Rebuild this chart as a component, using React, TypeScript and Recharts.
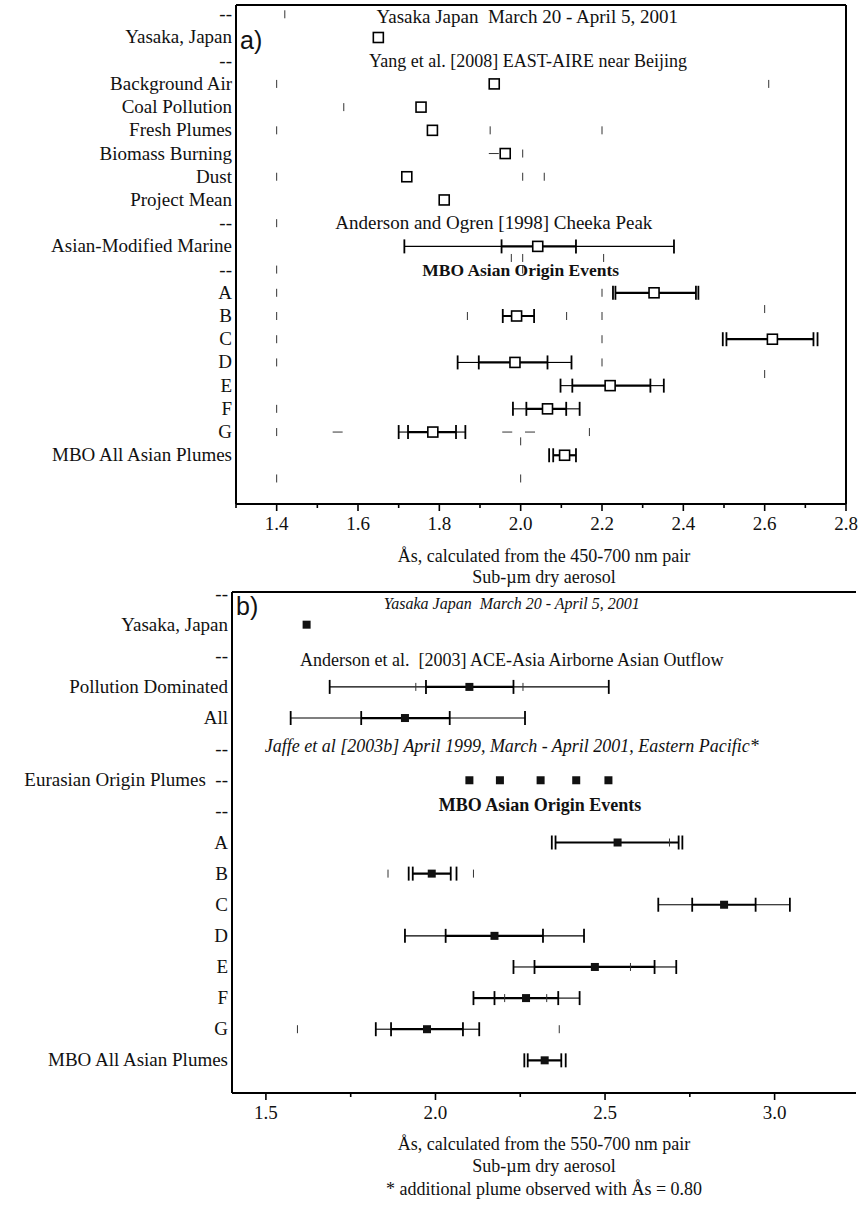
import React from "react";
import { ScatterChart, Scatter, XAxis, YAxis, ReferenceLine } from "recharts";

const serif = "'Liberation Serif', 'Times New Roman', serif";
const sans = "'Liberation Sans', Arial, sans-serif";

// ---------- panel a: 450-700 nm pair ----------
const rowsA = [
  "--", "Yasaka, Japan", "--", "Background Air", "Coal Pollution", "Fresh Plumes",
  "Biomass Burning", "Dust", "Project Mean", "--", "Asian-Modified Marine", "--",
  "A", "B", "C", "D", "E", "F", "G", "MBO All Asian Plumes",
];

const meansA = [
  { row: 1, v: 1.65 }, { row: 3, v: 1.935 }, { row: 4, v: 1.755 }, { row: 5, v: 1.783 },
  { row: 6, v: 1.962 }, { row: 7, v: 1.72 }, { row: 8, v: 1.812 }, { row: 10, v: 2.042 },
  { row: 12, v: 2.328 }, { row: 13, v: 1.99 }, { row: 14, v: 2.619 }, { row: 15, v: 1.986 },
  { row: 16, v: 2.22 }, { row: 17, v: 2.066 }, { row: 18, v: 1.784 }, { row: 19, v: 2.108 },
];

const whiskersA = [
  { row: 10, lo: 1.714, hi: 1.953, kind: "outer" },
  { row: 10, lo: 1.953, hi: 2.136, kind: "inner" },
  { row: 10, lo: 2.136, hi: 2.377, kind: "outer" },
  { row: 12, lo: 2.233, hi: 2.431, kind: "inner" },
  { row: 13, lo: 1.956, hi: 2.033, kind: "inner" },
  { row: 14, lo: 2.506, hi: 2.72, kind: "inner" },
  { row: 15, lo: 1.845, hi: 1.897, kind: "outer" },
  { row: 15, lo: 1.897, hi: 2.066, kind: "inner" },
  { row: 15, lo: 2.066, hi: 2.125, kind: "outer" },
  { row: 16, lo: 2.098, hi: 2.127, kind: "outer" },
  { row: 16, lo: 2.127, hi: 2.319, kind: "inner" },
  { row: 16, lo: 2.319, hi: 2.352, kind: "outer" },
  { row: 17, lo: 1.981, hi: 2.014, kind: "outer" },
  { row: 17, lo: 2.014, hi: 2.112, kind: "inner" },
  { row: 17, lo: 2.112, hi: 2.145, kind: "outer" },
  { row: 18, lo: 1.7, hi: 1.723, kind: "outer" },
  { row: 18, lo: 1.723, hi: 1.841, kind: "inner" },
  { row: 18, lo: 1.841, hi: 1.864, kind: "outer" },
  { row: 19, lo: 2.08, hi: 2.136, kind: "inner" },
];

const capsA = [
  { row: 10, v: 1.714 }, { row: 10, v: 1.953 }, { row: 10, v: 2.136 }, { row: 10, v: 2.377 },
  { row: 12, v: 2.227 }, { row: 12, v: 2.233 }, { row: 12, v: 2.431 }, { row: 12, v: 2.437 },
  { row: 13, v: 1.956 }, { row: 13, v: 2.033 },
  { row: 14, v: 2.497 }, { row: 14, v: 2.506 }, { row: 14, v: 2.72 }, { row: 14, v: 2.73 },
  { row: 15, v: 1.845 }, { row: 15, v: 1.897 }, { row: 15, v: 2.066 }, { row: 15, v: 2.125 },
  { row: 16, v: 2.098 }, { row: 16, v: 2.127 }, { row: 16, v: 2.319 }, { row: 16, v: 2.352 },
  { row: 17, v: 1.981 }, { row: 17, v: 2.014 }, { row: 17, v: 2.112 }, { row: 17, v: 2.145 },
  { row: 18, v: 1.7 }, { row: 18, v: 1.723 }, { row: 18, v: 1.841 }, { row: 18, v: 1.864 },
  { row: 19, v: 2.07 }, { row: 19, v: 2.08 }, { row: 19, v: 2.136 },
];

// faint specks left of the scan
const marksA = [
  { row: 0, v: 1.42 }, { row: 3, v: 1.4 }, { row: 3, v: 2.61 }, { row: 4, v: 1.565 },
  { row: 5, v: 1.4 }, { row: 5, v: 1.925 }, { row: 5, v: 2.2 }, { row: 6, v: 2.005 },
  { row: 7, v: 1.4 }, { row: 7, v: 2.005 }, { row: 7, v: 2.058 }, { row: 9, v: 1.4 },
  { row: 10.5, v: 1.977 }, { row: 10.5, v: 2.005 }, { row: 10.5, v: 2.204 }, { row: 11, v: 1.4 },
  { row: 11, v: 2.005 }, { row: 12, v: 1.4 }, { row: 12, v: 2.2 }, { row: 13, v: 1.4 },
  { row: 13, v: 1.869 }, { row: 13, v: 2.113 }, { row: 13, v: 2.2 }, { row: 12.7, v: 2.6 },
  { row: 14, v: 1.4 }, { row: 14, v: 2.2 }, { row: 15, v: 1.4 }, { row: 15, v: 2.2 },
  { row: 15.5, v: 2.6 }, { row: 17, v: 1.4 }, { row: 18, v: 1.4 }, { row: 18.4, v: 2.0 },
  { row: 18, v: 2.169 }, { row: 20, v: 1.4 }, { row: 20, v: 2.0 },
];
const dashesA = [
  { row: 6, v: 1.934 }, { row: 18, v: 1.55 }, { row: 18, v: 1.967 }, { row: 18, v: 2.023 },
];

const notesA = [
  { row: 0.1, at: 2.016, text: "Yasaka Japan  March 20 - April 5, 2001" },
  { row: 2, at: 2.018, text: "Yang et al. [2008] EAST-AIRE near Beijing" },
  { row: 9, at: 1.934, text: "Anderson and Ogren [1998] Cheeka Peak" },
  { row: 11, at: 2.0, text: "MBO Asian Origin Events" },
];
const majorA = [1.4, 1.6, 1.8, 2.0, 2.2, 2.4, 2.6, 2.8];
const minorA = [1.3, 1.5, 1.7, 1.9, 2.1, 2.3, 2.5, 2.7];

// ---------- panel b: 550-700 nm pair ----------
const rowsB = [
  "--", "Yasaka, Japan", "--", "Pollution Dominated", "All", "--",
  "Eurasian Origin Plumes\u00a0\u00a0--", "--", "A", "B", "C", "D", "E", "F", "G",
  "MBO All Asian Plumes",
];

const meansB = [
  { row: 1, v: 1.62 }, { row: 3, v: 2.1 }, { row: 4, v: 1.91 },
  { row: 6, v: 2.1 }, { row: 6, v: 2.19 }, { row: 6, v: 2.31 }, { row: 6, v: 2.415 }, { row: 6, v: 2.51 },
  { row: 8, v: 2.537 }, { row: 9, v: 1.989 }, { row: 10, v: 2.851 }, { row: 11, v: 2.174 },
  { row: 12, v: 2.47 }, { row: 13, v: 2.267 }, { row: 14, v: 1.975 }, { row: 15, v: 2.322 },
];

const whiskersB = [
  { row: 3, lo: 1.688, hi: 1.972, kind: "outer" },
  { row: 3, lo: 1.972, hi: 2.23, kind: "inner" },
  { row: 3, lo: 2.23, hi: 2.511, kind: "outer" },
  { row: 4, lo: 1.573, hi: 1.781, kind: "outer" },
  { row: 4, lo: 1.781, hi: 2.042, kind: "inner" },
  { row: 4, lo: 2.042, hi: 2.264, kind: "outer" },
  { row: 8, lo: 2.354, hi: 2.717, kind: "inner" },
  { row: 9, lo: 1.933, hi: 2.045, kind: "inner" },
  { row: 10, lo: 2.657, hi: 2.757, kind: "outer" },
  { row: 10, lo: 2.757, hi: 2.944, kind: "inner" },
  { row: 10, lo: 2.944, hi: 3.045, kind: "outer" },
  { row: 11, lo: 1.91, hi: 2.03, kind: "outer" },
  { row: 11, lo: 2.03, hi: 2.317, kind: "inner" },
  { row: 11, lo: 2.317, hi: 2.438, kind: "outer" },
  { row: 12, lo: 2.23, hi: 2.292, kind: "outer" },
  { row: 12, lo: 2.292, hi: 2.646, kind: "inner" },
  { row: 12, lo: 2.646, hi: 2.71, kind: "outer" },
  { row: 13, lo: 2.112, hi: 2.174, kind: "inner" },
  { row: 13, lo: 2.174, hi: 2.362, kind: "inner" },
  { row: 13, lo: 2.362, hi: 2.425, kind: "outer" },
  { row: 14, lo: 1.824, hi: 1.869, kind: "outer" },
  { row: 14, lo: 1.869, hi: 2.081, kind: "inner" },
  { row: 14, lo: 2.081, hi: 2.129, kind: "outer" },
  { row: 15, lo: 2.272, hi: 2.371, kind: "inner" },
];

const capsB = [
  { row: 3, v: 1.688 }, { row: 3, v: 1.972 }, { row: 3, v: 2.23 }, { row: 3, v: 2.511 },
  { row: 4, v: 1.573 }, { row: 4, v: 1.781 }, { row: 4, v: 2.042 }, { row: 4, v: 2.264 },
  { row: 8, v: 2.343 }, { row: 8, v: 2.354 }, { row: 8, v: 2.717 }, { row: 8, v: 2.728 },
  { row: 9, v: 1.921 }, { row: 9, v: 1.933 }, { row: 9, v: 2.045 }, { row: 9, v: 2.062 },
  { row: 10, v: 2.657 }, { row: 10, v: 2.757 }, { row: 10, v: 2.944 }, { row: 10, v: 3.045 },
  { row: 11, v: 1.91 }, { row: 11, v: 2.03 }, { row: 11, v: 2.317 }, { row: 11, v: 2.438 },
  { row: 12, v: 2.23 }, { row: 12, v: 2.292 }, { row: 12, v: 2.646 }, { row: 12, v: 2.71 },
  { row: 13, v: 2.112 }, { row: 13, v: 2.174 }, { row: 13, v: 2.362 }, { row: 13, v: 2.425 },
  { row: 14, v: 1.824 }, { row: 14, v: 1.869 }, { row: 14, v: 2.081 }, { row: 14, v: 2.129 },
  { row: 15, v: 2.262 }, { row: 15, v: 2.272 }, { row: 15, v: 2.371 }, { row: 15, v: 2.384 },
];

const marksB = [
  { row: 3, v: 1.942 }, { row: 3, v: 2.258 }, { row: 8, v: 2.69 }, { row: 9, v: 1.86 },
  { row: 9, v: 2.112 }, { row: 12, v: 2.575 }, { row: 13, v: 2.204 }, { row: 13, v: 2.328 },
  { row: 14, v: 1.593 }, { row: 14, v: 2.365 },
];
const dashesB: { row: number; v: number }[] = [];

const notesB = [
  { row: 0.3, at: 2.225, text: "Yasaka Japan  March 20 - April 5, 2001" },
  { row: 2.15, at: 2.225, text: "Anderson et al.  [2003] ACE-Asia Airborne Asian Outflow" },
  { row: 4.9, at: 2.225, text: "Jaffe et al [2003b] April 1999, March - April 2001, Eastern Pacific*" },
  { row: 6.8, at: 2.308, text: "MBO Asian Origin Events" },
];
const majorB = [1.5, 2.0, 2.5, 3.0];
const minorB = [1.75, 2.25, 2.75];

const noteStyleA = ["normal", "normal", "normal", "bold"];
const noteStyleB = ["italic", "normal", "italic", "bold"];

const toXY = (d: { row: number; v: number }) => ({ x: d.v, y: d.row });
const nothing = () => <g />;

function Panel(props: any) {
  const {
    width, height, margin, yWidth, xDomain, yDomain, rows, majors, minors,
    means, whiskers, caps, marks, dashes, notes, noteStyles, filled, rightBorder, noteSize,
  } = props;

  const xTick = (p: any) => {
    const v = p.payload.value;
    const major = majors.some((m: number) => Math.abs(m - v) < 1e-6);
    return (
      <g>
        <line x1={p.x} x2={p.x} y1={p.y} y2={p.y + (major ? 7 : 4)} stroke="#000" strokeWidth={1.6} />
        {major && (
          <text x={p.x} y={p.y + 26} textAnchor="middle" fontSize={19} fontFamily={serif} fill="#111">
            {v.toFixed(1)}
          </text>
        )}
      </g>
    );
  };

  const yTick = (p: any) => (
    <text x={p.x} y={p.y} dy={6} textAnchor="end" fontSize={19} fontFamily={serif} fill="#111">
      {rows[p.payload.value]}
    </text>
  );

  const square = (p: any) =>
    filled ? (
      <rect x={p.cx - 4} y={p.cy - 4} width={8} height={8} fill="#111" />
    ) : (
      <rect x={p.cx - 5} y={p.cy - 5} width={10} height={10} fill="#fff" stroke="#000" strokeWidth={1.6} />
    );
  const cap = (p: any) => (
    <line x1={p.cx} x2={p.cx} y1={p.cy - 7} y2={p.cy + 7} stroke="#000" strokeWidth={1.8} />
  );
  const mark = (p: any) => (
    <line x1={p.cx} x2={p.cx} y1={p.cy - 4} y2={p.cy + 4} stroke="#333" strokeWidth={1} />
  );
  const dash = (p: any) => (
    <line x1={p.cx - 5} x2={p.cx + 5} y1={p.cy} y2={p.cy} stroke="#333" strokeWidth={1} />
  );

  return (
    <ScatterChart width={width} height={height} margin={margin}>
      <XAxis
        type="number"
        dataKey="x"
        domain={xDomain}
        ticks={[...minors, ...majors].sort((a: number, b: number) => a - b)}
        tick={xTick}
        tickLine={false}
        tickSize={0}
        tickMargin={0}
        axisLine={{ stroke: "#000", strokeWidth: 2 }}
        allowDataOverflow
        height={30}
        interval={0}
      />
      <YAxis
        type="number"
        dataKey="y"
        domain={yDomain}
        reversed
        ticks={rows.map((_: string, i: number) => i)}
        tick={yTick}
        tickLine={false}
        tickSize={0}
        tickMargin={4}
        axisLine={{ stroke: "#000", strokeWidth: 2 }}
        allowDataOverflow
        width={yWidth}
        interval={0}
      />
      <ReferenceLine y={yDomain[0]} stroke="#000" strokeWidth={2} />
      {rightBorder && <ReferenceLine x={xDomain[1]} stroke="#000" strokeWidth={2} />}
      {whiskers.map((w: any, i: number) => (
        <Scatter
          key={"w" + i}
          data={[{ x: w.lo, y: w.row }, { x: w.hi, y: w.row }]}
          line={{ stroke: "#000", strokeWidth: w.kind === "inner" ? 2.2 : 1.1 }}
          shape={nothing}
          isAnimationActive={false}
        />
      ))}
      <Scatter data={marks.map(toXY)} shape={mark} isAnimationActive={false} />
      <Scatter data={dashes.map(toXY)} shape={dash} isAnimationActive={false} />
      <Scatter data={caps.map(toXY)} shape={cap} isAnimationActive={false} />
      <Scatter data={means.map(toXY)} shape={square} isAnimationActive={false} />
      {notes.map((n: any, i: number) => (
        <Scatter
          key={"n" + i}
          data={[{ x: n.at, y: n.row }]}
          isAnimationActive={false}
          shape={(p: any) => (
            <text
              x={p.cx}
              y={p.cy}
              dy={6}
              textAnchor="middle"
              fontSize={noteSize[i]}
              fontFamily={serif}
              fontStyle={noteStyles[i] === "italic" ? "italic" : "normal"}
              fontWeight={noteStyles[i] === "bold" ? "bold" : "normal"}
              fill="#111"
              style={{ whiteSpace: "pre" }}
            >
              {n.text}
            </text>
          )}
        />
      ))}
    </ScatterChart>
  );
}

const caption = (top: number, text: string) => (
  <div
    style={{
      position: "absolute", left: 232, width: 624, top, textAlign: "center",
      fontFamily: serif, fontSize: 18, lineHeight: "21px", color: "#111", whiteSpace: "pre",
    }}
  >
    {text}
  </div>
);

export default function App() {
  return (
    <div style={{ position: "absolute", left: 0, top: 0, width: 860, height: 1218, background: "#fff" }}>
      <div style={{ position: "absolute", left: 0, top: 0 }}>
        <Panel
          width={860}
          height={540}
          margin={{ top: 5, right: 14, bottom: 6, left: 0 }}
          yWidth={236}
          xDomain={[1.3, 2.8]}
          yDomain={[-0.4, 21.1]}
          rows={rowsA}
          majors={majorA}
          minors={minorA}
          means={meansA}
          whiskers={whiskersA}
          caps={capsA}
          marks={marksA}
          dashes={dashesA}
          notes={notesA}
          noteStyles={noteStyleA}
          noteSize={[19, 18, 19, 17.5]}
          filled={false}
          rightBorder
        />
      </div>
      <div style={{ position: "absolute", left: 240, top: 26, fontFamily: sans, fontSize: 25, color: "#111" }}>a)</div>
      {caption(546, "Ås, calculated from the 450-700 nm pair")}
      {caption(567, "Sub-µm dry aerosol")}

      <div style={{ position: "absolute", left: 0, top: 579 }}>
        <Panel
          width={860}
          height={550}
          margin={{ top: 13, right: 4, bottom: 6, left: 0 }}
          yWidth={232}
          xDomain={[1.4, 3.24]}
          yDomain={[-0.05, 16.05]}
          rows={rowsB}
          majors={majorB}
          minors={minorB}
          means={meansB}
          whiskers={whiskersB}
          caps={capsB}
          marks={marksB}
          dashes={dashesB}
          notes={notesB}
          noteStyles={noteStyleB}
          noteSize={[16, 18, 18, 18]}
          filled
          rightBorder={false}
        />
      </div>
      <div style={{ position: "absolute", left: 236, top: 592, fontFamily: sans, fontSize: 25, color: "#111" }}>b)</div>
      {caption(1134, "Ås, calculated from the 550-700 nm pair")}
      {caption(1156, "Sub-µm dry aerosol")}
      {caption(1179, "* additional plume observed with Ås = 0.80")}
    </div>
  );
}
